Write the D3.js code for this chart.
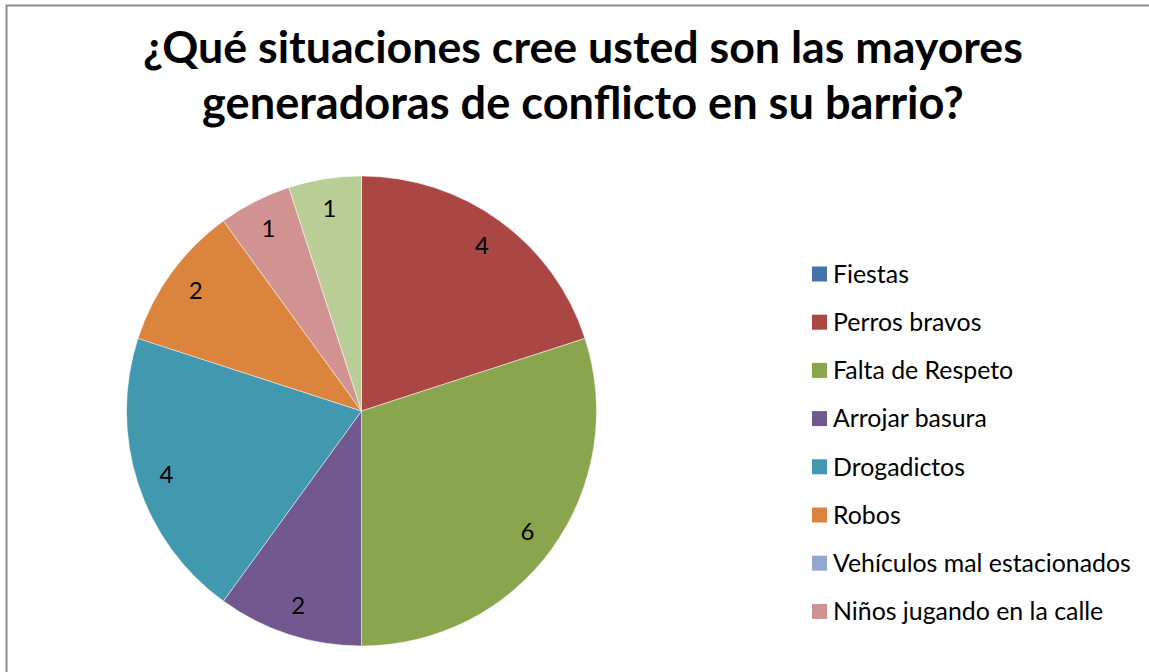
<!DOCTYPE html>
<html lang="es">
<head>
    <meta charset="UTF-8">
    <title>Situaciones generadoras de conflicto</title>
    <script src="https://d3js.org/d3.v7.min.js"></script>
    <style>
        body, html {
            margin: 0;
            background: #fff;
            overflow: hidden;
        }
        text {
            font-family: Lato, "Open Sans", sans-serif;
            fill: #000;
        }
    </style>
</head>
<body>
    <div id="chart"></div>
    <script>
        // Data
        const categories = ["Fiestas", "Perros bravos", "Falta de Respeto", "Arrojar basura",
            "Drogadictos", "Robos", "Vehículos mal estacionados", "Niños jugando en la calle", "Otros"];
        const values = [0, 4, 6, 2, 4, 2, 0, 1, 1];
        const colors = ["#4572A7", "#AA4643", "#89A54E", "#71588F", "#4198AF",
            "#DB843D", "#93A9CF", "#D19392", "#B9CD96"];
        const titleLines = ["¿Qué situaciones cree usted son las mayores",
            "generadoras de conflicto en su barrio?"];
        // the legend box in the original only has room for eight entries
        const legendCount = 8;

        const width = 1149, height = 672;
        const cx = 361.5, cy = 411, radius = 235, labelRadius = 205;

        const svg = d3.select("#chart").append("svg")
            .attr("width", width)
            .attr("height", height);

        // outer frame (right and bottom edges run off the picture)
        svg.append("rect")
            .attr("x", 6.5).attr("y", 5.5)
            .attr("width", width + 20).attr("height", height + 20)
            .attr("fill", "none")
            .attr("stroke", "#8c8c8c")
            .attr("stroke-width", 2);

        // title
        const title = svg.append("g");
        titleLines.forEach((t, i) => {
            title.append("text")
                .attr("x", 583)
                .attr("y", 63 + i * 56)
                .attr("text-anchor", "middle")
                .attr("font-size", 40)
                .attr("font-weight", "bold")
                .text(t);
        });
        // scale lines to the width the original font gives
        const targetWidths = [880, 762];
        title.selectAll("text").each(function(d, i) {
            const s = targetWidths[i] / this.getComputedTextLength();
            d3.select(this).attr("font-size", 40 * s);
        });

        // pie
        const pie = d3.pie().sort(null).value(d => d)(values);
        const arc = d3.arc().innerRadius(0).outerRadius(radius);
        const labelArc = d3.arc().innerRadius(labelRadius).outerRadius(labelRadius);

        const g = svg.append("g").attr("transform", `translate(${cx},${cy})`);

        g.selectAll("path")
            .data(pie.filter(d => d.value > 0))
            .join("path")
            .attr("d", arc)
            .attr("fill", d => colors[d.index])
            .attr("stroke", "#fff")
            .attr("stroke-opacity", 0.6)
            .attr("stroke-width", 0.8);

        g.selectAll("text")
            .data(pie.filter(d => d.value > 0))
            .join("text")
            .attr("transform", d => `translate(${labelArc.centroid(d)})`)
            .attr("text-anchor", "middle")
            .attr("dy", "0.35em")
            .attr("font-size", 24)
            .text(d => d.value);

        // legend
        const legend = svg.append("g").attr("transform", "translate(812,274)");
        const rows = legend.selectAll("g")
            .data(categories.slice(0, legendCount))
            .join("g")
            .attr("transform", (d, i) => `translate(0,${i * 48.2})`);

        rows.append("rect")
            .attr("x", 0).attr("y", -7.5)
            .attr("width", 15).attr("height", 15)
            .attr("fill", (d, i) => colors[i]);

        rows.append("text")
            .attr("x", 21)
            .attr("dy", "0.35em")
            .attr("font-size", 22)
            .text(d => d);

        // match the legend text width of the original
        rows.select("text").each(function(d) {
            if (d === "Vehículos mal estacionados") {
                const s = 298 / this.getComputedTextLength();
                rows.selectAll("text").attr("font-size", 22 * s);
            }
        });
    </script>
</body>
</html>
